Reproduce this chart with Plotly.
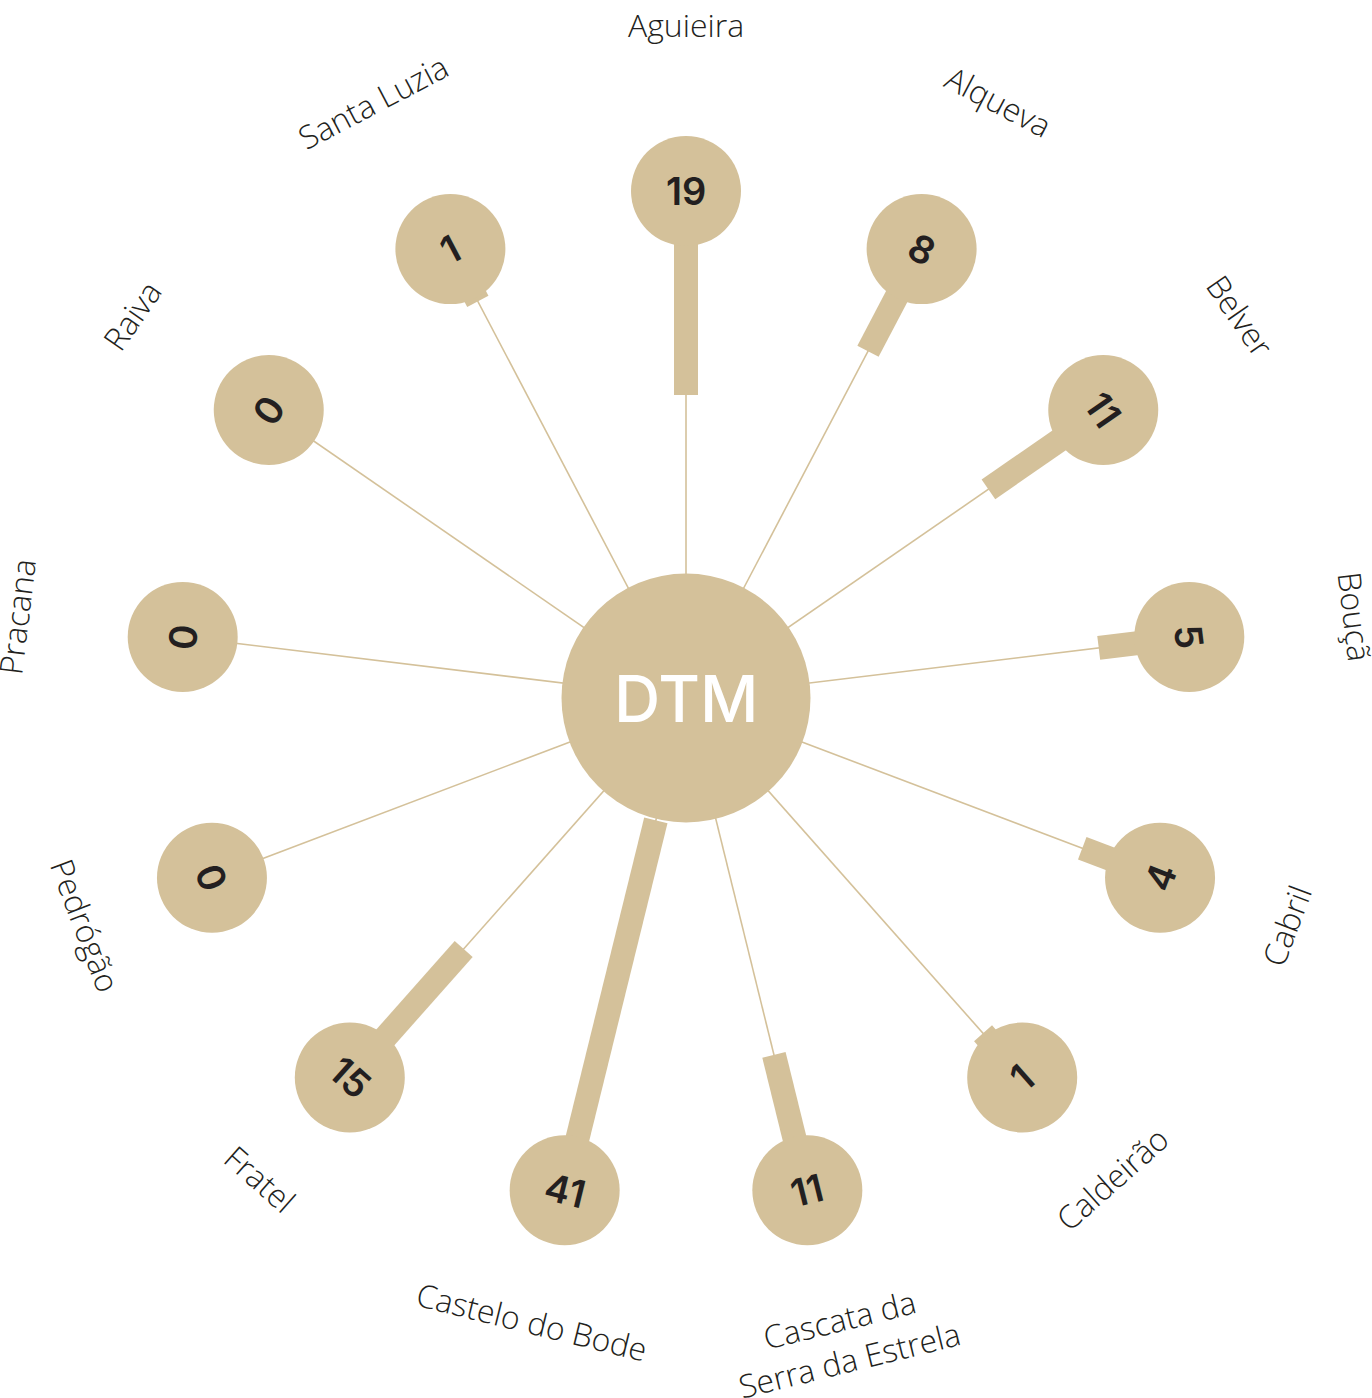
import math
import plotly.graph_objects as go

# ---- data ----
categories = ["Aguieira", "Alqueva", "Belver", "Bouçã", "Cabril", "Caldeirão",
              "Cascata da<br>Serra da Estrela", "Castelo do Bode", "Fratel",
              "Pedrógão", "Pracana", "Raiva", "Santa Luzia"]
values = [19, 8, 11, 5, 4, 1, 11, 41, 15, 0, 0, 0, 1]
center_label = "DTM"

# ---- style ----
BEIGE = "#D4C19A"
INK = "#231F20"
R_NODE = 507          # radius of the outer circles' centres (px)
R_BAR0 = 456          # bar inner end for value 0
R_BARMAX = 126        # bar inner end for max value
R_LABEL_TOP = 674     # label centre radius, upright labels
R_LABEL_BOT = 642     # label centre radius, flipped labels (first line)
LINE_H = 38
LABEL_FONT = "Open Sans, Inter, Lato, sans-serif"

n = len(categories)
vmax = max(values)

def pos(r, ang):
    a = math.radians(ang)
    return r * math.sin(a), r * math.cos(a)

def text_rot(ang):
    if ang <= 90:
        return ang
    if ang >= 270:
        return ang - 360
    return ang - 180

angles = [i * 360.0 / n for i in range(n)]

fig = go.Figure()

# thin spokes
sx, sy = [], []
for ang in angles:
    x0, y0 = pos(0, ang)
    x1, y1 = pos(R_NODE, ang)
    sx += [x0, x1, None]
    sy += [y0, y1, None]
fig.add_trace(go.Scatter(x=sx, y=sy, mode="lines",
                         line=dict(color=BEIGE, width=1.6),
                         hoverinfo="skip", showlegend=False))

# thick value bars
bx, by = [], []
for ang, v in zip(angles, values):
    r_in = R_BAR0 + (R_BARMAX - R_BAR0) * v / vmax
    x0, y0 = pos(r_in, ang)
    x1, y1 = pos(R_NODE, ang)
    bx += [x0, x1, None]
    by += [y0, y1, None]
fig.add_trace(go.Scatter(x=bx, y=by, mode="lines",
                         line=dict(color=BEIGE, width=24),
                         hoverinfo="skip", showlegend=False))

# outer circles
nx = [pos(R_NODE, a)[0] for a in angles]
ny = [pos(R_NODE, a)[1] for a in angles]
fig.add_trace(go.Scatter(x=nx, y=ny, mode="markers",
                         marker=dict(size=110, color=BEIGE, line=dict(width=0)),
                         hoverinfo="skip", showlegend=False))

# centre circle
fig.add_trace(go.Scatter(x=[0], y=[0], mode="markers",
                         marker=dict(size=249, color=BEIGE, line=dict(width=0)),
                         hoverinfo="skip", showlegend=False))

annotations = []
# centre label
annotations.append(dict(x=0, y=0, xref="x", yref="y", text=center_label,
                        showarrow=False, xanchor="center", yanchor="middle",
                        font=dict(family="Inter, Lato, sans-serif", size=64,
                                  color="white", weight=500)))

# values in circles
for ang, v, x, y in zip(angles, values, nx, ny):
    annotations.append(dict(x=x, y=y, xref="x", yref="y", text=str(v),
                            showarrow=False, xanchor="center", yanchor="middle",
                            textangle=text_rot(ang),
                            font=dict(family="Inter, Lato, sans-serif", size=38,
                                      color=INK, weight=600)))

# category labels
for ang, lab in zip(angles, categories):
    nl = lab.count("<br>") + 1
    extra = LINE_H * (nl - 1) / 2
    flipped = 90 < ang < 270
    r = R_LABEL_BOT + extra if flipped else R_LABEL_TOP - extra
    x, y = pos(r, ang)
    annotations.append(dict(x=x, y=y, xref="x", yref="y", text=lab,
                            showarrow=False, xanchor="center", yanchor="middle",
                            textangle=text_rot(ang), borderpad=0,
                            font=dict(family=LABEL_FONT, size=32,
                                      color=INK, weight=300)))

W, H = 1372, 1398
CX, CY = 686, 698
fig.update_layout(
    width=W, height=H,
    margin=dict(l=0, r=0, t=0, b=0),
    paper_bgcolor="white", plot_bgcolor="white",
    xaxis=dict(range=[-CX, W - CX], visible=False, fixedrange=True),
    yaxis=dict(range=[-(H - CY), CY], visible=False, fixedrange=True),
    annotations=annotations,
    showlegend=False,
)

# remove the browser's default body margin so the figure fills the window
fig.write_html("out.html", config={"displayModeBar": False},
               post_script="document.body.style.margin='0';")
